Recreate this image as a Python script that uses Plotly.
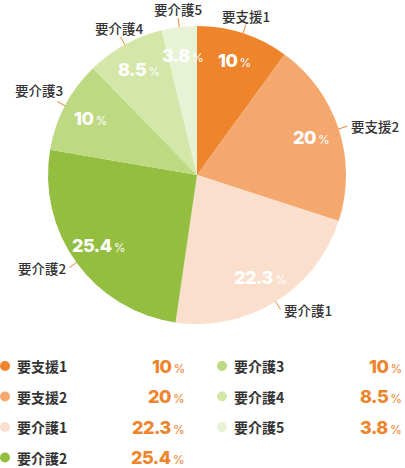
import numpy as np
import plotly.graph_objects as go

# データ
labels = ["要支援1", "要支援2", "要介護1", "要介護2", "要介護3", "要介護4", "要介護5"]
values = [10, 20, 22.3, 25.4, 10, 8.5, 3.8]
colors = ["#EE842B", "#F4A86E", "#FADFCC", "#93BE40", "#BDDA82", "#D4E6A8", "#E8F3D6"]

W, H = 405, 468
cx, cy, R = 197, 175, 149
orange = "#EE842B"
jp_font = "Noto Sans CJK JP"
num_font = "Inter"

# 各スライスの中心角 (12時から時計回り)
vals = np.array(values, dtype=float)
cum = np.cumsum(vals)
mid = np.radians((cum - vals / 2) / vals.sum() * 360)
sn, cs = np.sin(mid), np.cos(mid)


def pct_text(v, size, pct_size):
    return (f"<span style='font-size:{size}px;font-weight:800;letter-spacing:-0.5px'>{v:g}</span>"
            f"<span style='font-size:{pct_size}px;font-weight:400'>\u2009%</span>")


fig = go.Figure()

# 円グラフ
fig.add_trace(go.Pie(
    labels=labels,
    values=values,
    marker=dict(colors=colors, line=dict(width=0)),
    sort=False,
    direction="clockwise",
    rotation=0,
    textinfo="none",
    hoverinfo="label+value",
    showlegend=False,
    domain=dict(x=[(cx - R) / W, (cx + R) / W],
                y=[1 - (cy + R) / H, 1 - (cy - R) / H]),
))

# 引き出し線
lx, ly = [], []
for s, c in zip(sn, cs):
    lx += [cx + s * (R - 1), cx + s * (R + 9), None]
    ly += [cy - c * (R - 1), cy - c * (R + 9), None]
fig.add_trace(go.Scatter(x=lx, y=ly, mode="lines", line=dict(color=orange, width=1),
                         hoverinfo="skip", showlegend=False))

annotations = []
for lab, v, s, c in zip(labels, values, sn, cs):
    # 円の中の割合
    annotations.append(dict(
        x=cx + s * R * 0.81, y=cy - c * R * 0.81, xref="x", yref="y",
        text=pct_text(v, 18, 12), showarrow=False,
        font=dict(family=num_font, color="white"),
    ))
    # 外側のラベル
    ex, ey = cx + s * (R + 10), cy - c * (R + 10)
    shift = 0
    if c > 0.4 and abs(s) < 0.5:
        xa, ya = "center", "bottom"
        shift = -3
    elif s > 0:
        xa, ya = "left", "middle"
        ex += 2
    elif c > 0.4:
        xa, ya = "right", "bottom"
        ex += 8
    else:
        xa, ya = "right", "middle"
    annotations.append(dict(
        x=ex, y=ey, xref="x", yref="y", text=lab, showarrow=False,
        xanchor=xa, yanchor=ya, yshift=shift, borderpad=0,
        font=dict(family=jp_font, size=13.5, color="#333333", weight=500),
    ))

# 凡例
leg_x = [[5, 15, 187], [222, 232, 404]]
leg_y0, leg_dy = 366, 30.5
dot_x, dot_y, dot_c = [], [], []
for i, (lab, v, col) in enumerate(zip(labels, values, colors)):
    colm, row = (0, i) if i < 4 else (1, i - 4)
    dx, tx, vx = leg_x[colm]
    y = leg_y0 + row * leg_dy
    dot_x.append(dx)
    dot_y.append(y)
    dot_c.append(col)
    annotations.append(dict(
        x=tx, y=y, xref="x", yref="y", text=lab, showarrow=False,
        xanchor="left", yanchor="middle",
        font=dict(family=jp_font, size=14, color="#333333", weight="bold"),
    ))
    annotations.append(dict(
        x=vx, y=y, xref="x", yref="y", text=pct_text(v, 18, 12), showarrow=False,
        xanchor="right", yanchor="middle",
        font=dict(family=num_font, color=orange),
    ))

fig.add_trace(go.Scatter(x=dot_x, y=dot_y, mode="markers",
                         marker=dict(size=10, color=dot_c),
                         hoverinfo="skip", showlegend=False))

fig.update_layout(
    width=W, height=H,
    margin=dict(l=0, r=0, t=0, b=0),
    paper_bgcolor="white",
    plot_bgcolor="rgba(0,0,0,0)",
    xaxis=dict(range=[0, W], visible=False, fixedrange=True),
    yaxis=dict(range=[H, 0], visible=False, fixedrange=True),
    annotations=annotations,
)

fig.write_html("out.html", config={"displayModeBar": False},
               post_script="document.body.style.margin='0';")
